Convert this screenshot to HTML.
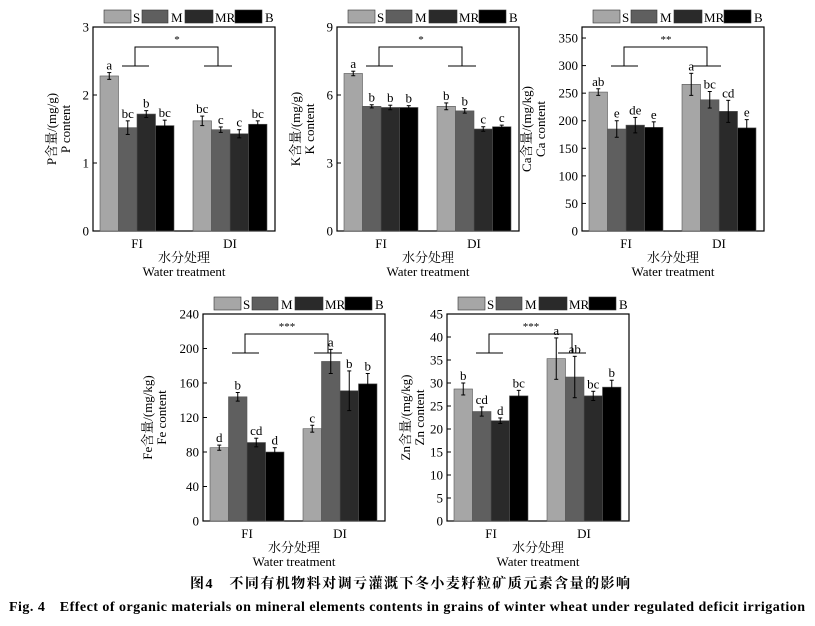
<!DOCTYPE html><html><head><meta charset="utf-8"><style>body{margin:0;background:#fff}svg{display:block}text{font-family:"Liberation Serif","Noto Serif CJK SC",serif;fill:#000}</style></head><body>
<svg id="s" width="815" height="626" viewBox="0 0 815 626" xmlns="http://www.w3.org/2000/svg">
<text x="410" y="588" font-size="14" font-weight="bold" text-anchor="middle" textLength="440" font-family="Liberation Sans,Noto Sans CJK SC,sans-serif">图4　不同有机物料对调亏灌溉下冬小麦籽粒矿质元素含量的影响</text>
<text x="407" y="611" font-size="14" font-weight="bold" text-anchor="middle" textLength="796">Fig. 4　Effect of organic materials on mineral elements contents in grains of winter wheat under regulated deficit irrigation</text>
</svg>
<script>
const s=document.getElementById('s');let h='';
const C=['#a6a6a6','#5f5f5f','#2a2a2a','#000'];
const P=[
{L:93,T:27,B:231,max:3,ticks:[0,1,2,3],el:'P',unit:'mg/g',v:[2.28,1.52,1.72,1.55,1.62,1.49,1.43,1.57],e:[.05,.1,.05,.08,.07,.04,.06,.05],l:['a','bc','b','bc','bc','c','c','bc'],st:'*'},
{L:337,T:27,B:231,max:9,ticks:[0,3,6,9],el:'K',unit:'mg/g',v:[6.95,5.5,5.45,5.45,5.5,5.3,4.5,4.6],e:[.1,.07,.1,.08,.15,.1,.1,.07],l:['a','b','b','b','b','b','c','c'],st:'*'},
{L:582,T:27,B:231,max:370,ticks:[0,50,100,150,200,250,300,350],el:'Ca',unit:'mg/kg',v:[252,185,192,188,266,238,217,187],e:[6,15,14,10,20,15,20,15],l:['ab','e','de','e','a','bc','cd','e'],st:'**'},
{L:203,T:314,B:521,max:240,ticks:[0,40,80,120,160,200,240],el:'Fe',unit:'mg/kg',v:[85,144,91,80,107,185,151,159],e:[3,5,5,5,4,14,23,12],l:['d','b','cd','d','c','a','b','b'],st:'***'},
{L:447,T:314,B:521,max:45,ticks:[0,5,10,15,20,25,30,35,40,45],el:'Zn',unit:'mg/kg',v:[28.7,23.8,21.8,27.2,35.3,31.3,27.2,29.1],e:[1.3,1,.6,1.2,4.5,4.5,1,1.5],l:['b','cd','d','bc','a','ab','bc','b'],st:'***'}];
for(const p of P){const L=p.L,R=L+182,T=p.T,B=p.B,k=(B-T)/p.max,y=v=>B-v*k;
h+=`<rect x="${L}" y="${T}" width="182" height="${B-T}" fill="none" stroke="#000" stroke-width="1.2"/>`;
for(const t of p.ticks){h+=`<line x1="${L}" x2="${L+4}" y1="${y(t)}" y2="${y(t)}" stroke="#000"/><text x="${L-4}" y="${y(t)+4.5}" font-size="13" text-anchor="end">${t}</text>`}
for(let i=0;i<8;i++){const x=L+(i<4?7:100)+(i%4)*18.5,v=p.v[i],yy=y(v),cx=x+9.25,e=p.e[i]*k;
h+=`<rect x="${x}" y="${yy}" width="18.5" height="${B-yy}" fill="${C[i%4]}" stroke="#555" stroke-width=".6"/>`;
h+=`<g stroke="#000" stroke-width="1"><line x1="${cx}" x2="${cx}" y1="${yy-e}" y2="${yy+e}"/><line x1="${cx-2}" x2="${cx+2}" y1="${yy-e}" y2="${yy-e}"/><line x1="${cx-2}" x2="${cx+2}" y1="${yy+e}" y2="${yy+e}"/></g>`;
h+=`<text x="${cx}" y="${yy-e-3}" font-size="13" text-anchor="middle">${p.l[i]}</text>`}
const bt=T+20,bb=T+39;
h+=`<g stroke="#000" fill="none"><path d="M${L+42} ${bb}V${bt}H${L+125}V${bb}"/><line x1="${L+29}" x2="${L+56}" y1="${bb}" y2="${bb}"/><line x1="${L+111}" x2="${L+139}" y1="${bb}" y2="${bb}"/></g><text x="${L+84}" y="${T+16}" font-size="11" text-anchor="middle">${p.st}</text>`;
const ly=T-17,lb=[['S',11,27,40],['M',49,26,78],['MR',92,28,122],['B',142,27,172]];
for(let i=0;i<4;i++){const [t,bx,bw,tx]=lb[i];h+=`<rect x="${L+bx}" y="${ly}" width="${bw}" height="13" fill="${C[i]}" stroke="#333" stroke-width=".6"/><text x="${L+tx}" y="${ly+12}" font-size="13">${t}</text>`}
h+=`<text x="${L+44}" y="${B+17}" font-size="13" text-anchor="middle">FI</text><text x="${L+137}" y="${B+17}" font-size="13" text-anchor="middle">DI</text>`;
h+=`<text x="${L+91}" y="${B+31}" font-size="13" text-anchor="middle">水分处理</text><text x="${L+91}" y="${B+45}" font-size="13" text-anchor="middle">Water treatment</text>`;
const my=(T+B)/2,ax=L-(p.max>=100?37:23);
h+=`<text transform="translate(${ax-14},${my}) rotate(-90)" font-size="13" text-anchor="middle">${p.el}含量/(${p.unit})</text><text transform="translate(${ax},${my}) rotate(-90)" font-size="13" text-anchor="middle">${p.el} content</text>`}
s.insertAdjacentHTML('beforeend',h);
</script></body></html>
